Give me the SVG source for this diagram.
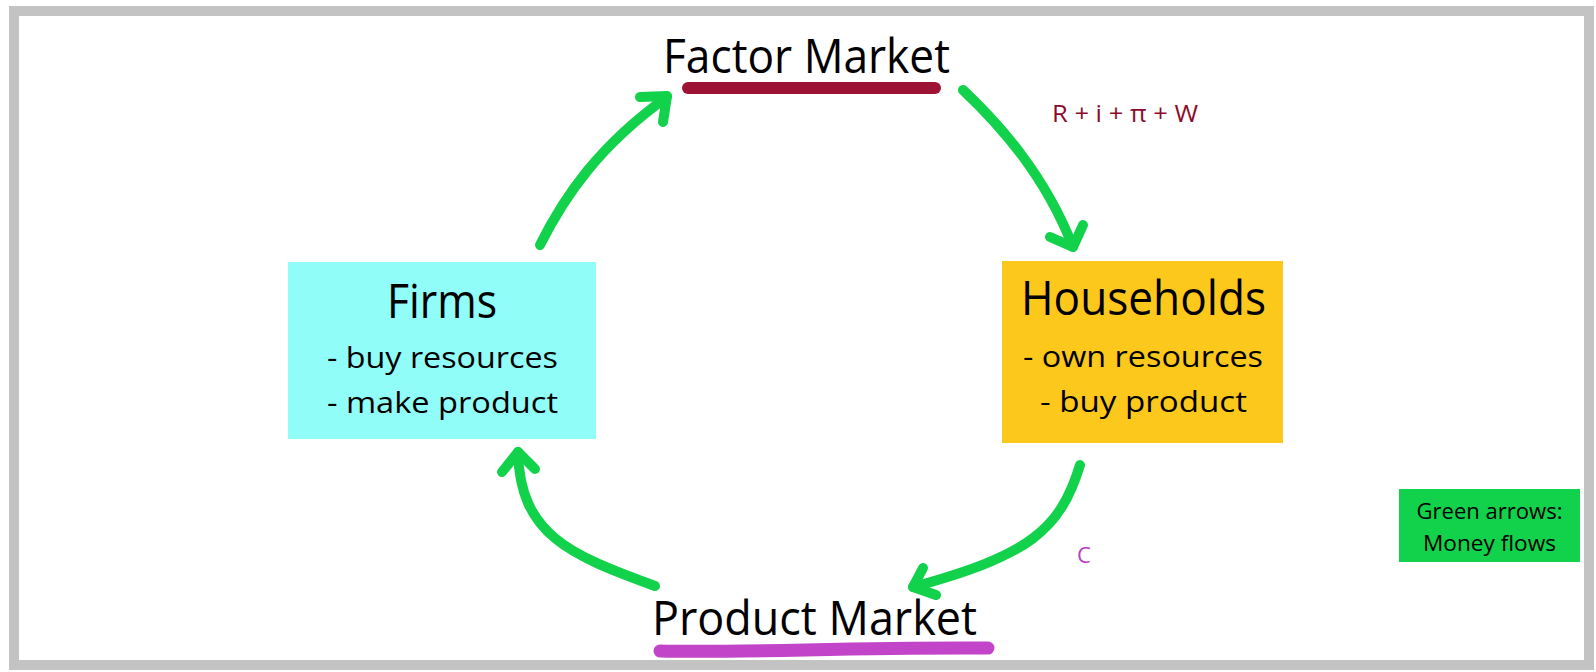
<svg xmlns="http://www.w3.org/2000/svg" width="1596" height="672" viewBox="0 0 1596 672">
<style>
  text { font-family: "Open Sans", "Noto Sans", "Liberation Sans", sans-serif; fill: #000; }
  .big { font-size: 48px; }
  .mid { font-size: 30px; }
  .small { font-size: 22px; }
  .flow { fill: none; stroke: #12d14a; stroke-width: 10; stroke-linecap: round; stroke-linejoin: round; }
</style>
<rect x="0" y="0" width="1596" height="672" fill="#ffffff"/>
<rect x="14" y="11" width="1575" height="654" fill="#ffffff" stroke="#c3c3c3" stroke-width="10"/>

<g id="factor-market">
  <text class="big" x="806.5" y="73" text-anchor="middle" textLength="287" lengthAdjust="spacingAndGlyphs">Factor Market</text>
  <path d="M688,88 L935,88" stroke="#9e1233" stroke-width="12" stroke-linecap="round" fill="none"/>
</g>

<g id="firms">
  <rect x="288" y="262" width="308" height="177" fill="#90fdf9"/>
  <text class="big" x="442" y="318" text-anchor="middle" textLength="110" lengthAdjust="spacingAndGlyphs">Firms</text>
  <text class="mid" x="442.5" y="368" text-anchor="middle" textLength="231" lengthAdjust="spacingAndGlyphs">- buy resources</text>
  <text class="mid" x="442.5" y="413" text-anchor="middle" textLength="231" lengthAdjust="spacingAndGlyphs">- make product</text>
</g>

<g id="households">
  <rect x="1002" y="261" width="281" height="182" fill="#fdc81c"/>
  <text class="big" x="1143.5" y="315" text-anchor="middle" textLength="245" lengthAdjust="spacingAndGlyphs">Households</text>
  <text class="mid" x="1143" y="367" text-anchor="middle" textLength="240" lengthAdjust="spacingAndGlyphs">- own resources</text>
  <text class="mid" x="1143.5" y="412" text-anchor="middle" textLength="207" lengthAdjust="spacingAndGlyphs">- buy product</text>
</g>

<g id="product-market">
  <text class="big" x="814.5" y="635" text-anchor="middle" font-size="46" textLength="325" lengthAdjust="spacingAndGlyphs">Product Market</text>
  <path d="M660,651 C750,653 850,647 988,648" stroke="#c245c9" stroke-width="13" stroke-linecap="round" fill="none"/>
</g>

<g id="label-income">
  <text x="1125" y="122" text-anchor="middle" font-size="24" style="fill:#8c0b2c" textLength="146" lengthAdjust="spacingAndGlyphs">R + i + π + W</text>
</g>

<g id="label-c">
  <text x="1077" y="563" font-size="22" style="fill:#b93fc2">C</text>
</g>

<g id="legend">
  <rect x="1399" y="489" width="181" height="73" fill="#12d14a"/>
  <text class="small" x="1489.5" y="519" text-anchor="middle" textLength="146" lengthAdjust="spacingAndGlyphs">Green arrows:</text>
  <text class="small" x="1489.5" y="551" text-anchor="middle" textLength="133" lengthAdjust="spacingAndGlyphs">Money flows</text>
</g>

<g id="connectors">
  <path class="flow" d="M540,245 C565,195 600,145 667,97"/>
  <polyline class="flow" points="640,97 667,96 663,122"/>
  <path class="flow" d="M963,90 C1000,125 1045,175 1073,247"/>
  <polyline class="flow" points="1050,237 1073,247 1083,225"/>
  <path class="flow" d="M1080,465 C1060,530 1030,555 913,587"/>
  <polyline class="flow" points="923,568 913,587 936,595"/>
  <path class="flow" d="M655,586 C570,555 520,535 518,452"/>
  <polyline class="flow" points="502,472 518,452 535,469"/>
</g>
</svg>
